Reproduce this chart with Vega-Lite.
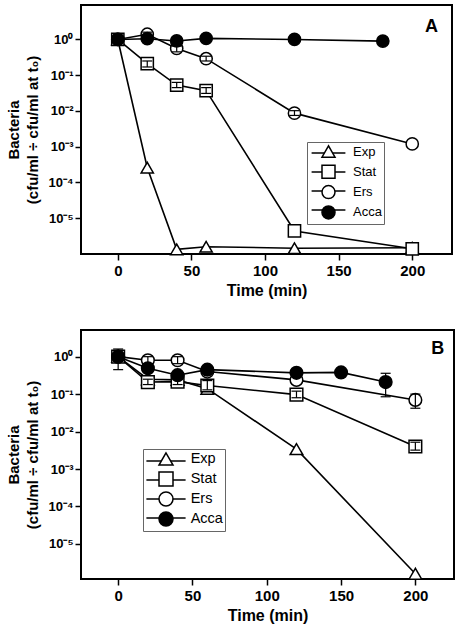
{
  "$schema": "https://vega.github.io/schema/vega-lite/v6.json",
  "padding": {"left": 4, "top": 4, "right": 0, "bottom": 0},
  "spacing": 30,
  "resolve": {"scale": {"color": "independent", "shape": "independent", "fill": "independent", "stroke": "independent"}, "legend": {"color": "independent", "shape": "independent", "fill": "independent", "stroke": "independent"}},
  "datasets": {
    "a": [
      {"t": 0, "v": 1, "s": "Exp"}, {"t": 20, "v": 0.00026, "s": "Exp"}, {"t": 40, "v": 0.00000135, "s": "Exp"}, {"t": 60, "v": 0.0000016, "s": "Exp"}, {"t": 120, "v": 0.00000145, "s": "Exp"}, {"t": 200, "v": 0.0000015, "s": "Exp"},
      {"t": 0, "v": 1, "s": "Stat"}, {"t": 20, "v": 0.21, "s": "Stat"}, {"t": 40, "v": 0.053, "s": "Stat"}, {"t": 60, "v": 0.037, "s": "Stat"}, {"t": 120, "v": 0.0000044, "s": "Stat"}, {"t": 200, "v": 0.0000014, "s": "Stat"},
      {"t": 0, "v": 1, "s": "Ers"}, {"t": 20, "v": 1.4, "s": "Ers"}, {"t": 40, "v": 0.56, "s": "Ers"}, {"t": 60, "v": 0.29, "s": "Ers"}, {"t": 120, "v": 0.0087, "s": "Ers"}, {"t": 200, "v": 0.0012, "s": "Ers"},
      {"t": 0, "v": 1, "s": "Acca"}, {"t": 20, "v": 1.05, "s": "Acca"}, {"t": 40, "v": 0.91, "s": "Acca"}, {"t": 60, "v": 1.07, "s": "Acca"}, {"t": 120, "v": 1.0, "s": "Acca"}, {"t": 180, "v": 0.9, "s": "Acca"}
    ],
    "b": [
      {"t": 0, "v": 1, "s": "Exp"}, {"t": 20, "v": 0.25, "s": "Exp"}, {"t": 40, "v": 0.24, "s": "Exp"}, {"t": 60, "v": 0.14, "s": "Exp"}, {"t": 120, "v": 0.0034, "s": "Exp"}, {"t": 200, "v": 0.0000016, "s": "Exp"},
      {"t": 0, "v": 1, "s": "Stat"}, {"t": 20, "v": 0.21, "s": "Stat"}, {"t": 40, "v": 0.215, "s": "Stat"}, {"t": 60, "v": 0.17, "s": "Stat"}, {"t": 120, "v": 0.097, "s": "Stat"}, {"t": 200, "v": 0.004, "s": "Stat"},
      {"t": 0, "v": 1, "s": "Ers"}, {"t": 20, "v": 0.8, "s": "Ers"}, {"t": 40, "v": 0.8, "s": "Ers"}, {"t": 60, "v": 0.4, "s": "Ers"}, {"t": 120, "v": 0.24, "s": "Ers"}, {"t": 200, "v": 0.07, "s": "Ers"},
      {"t": 0, "v": 1, "s": "Acca"}, {"t": 20, "v": 0.49, "s": "Acca"}, {"t": 40, "v": 0.32, "s": "Acca"}, {"t": 60, "v": 0.45, "s": "Acca"}, {"t": 120, "v": 0.37, "s": "Acca"}, {"t": 150, "v": 0.38, "s": "Acca"}, {"t": 180, "v": 0.21, "s": "Acca"}
    ],
    "ea": [
      {"t": 20, "lo": 0.17, "hi": 0.25}, {"t": 40, "lo": 0.045, "hi": 0.063}, {"t": 60, "lo": 0.031, "hi": 0.045},
      {"t": 20, "lo": 1.15, "hi": 1.6}, {"t": 40, "lo": 0.45, "hi": 0.65}, {"t": 60, "lo": 0.25, "hi": 0.34}, {"t": 120, "lo": 0.0075, "hi": 0.0102}
    ],
    "eb": [
      {"t": 0, "lo": 0.45, "hi": 1.6}, {"t": 20, "lo": 0.65, "hi": 1.0}, {"t": 40, "lo": 0.65, "hi": 1.0},
      {"t": 20, "lo": 0.18, "hi": 0.25}, {"t": 40, "lo": 0.18, "hi": 0.25}, {"t": 60, "lo": 0.13, "hi": 0.23}, {"t": 120, "lo": 0.08, "hi": 0.12}, {"t": 200, "lo": 0.0032, "hi": 0.0052},
      {"t": 180, "lo": 0.085, "hi": 0.36}, {"t": 200, "lo": 0.042, "hi": 0.1}
    ]
  },
  "vconcat": [
    {
      "width": 371,
      "height": 249,
      "layer": [
        {
          "data": {"name": "a"},
          "mark": {"type": "line", "strokeWidth": 1.6},
          "encoding": {
            "x": {"field": "t", "type": "quantitative", "scale": {"domain": [-25, 227], "nice": false, "zero": false},
              "axis": {"title": "Time (min)", "values": [0, 50, 100, 150, 200], "labelFontSize": 15, "titleFontSize": 16, "labelPadding": 3, "titlePadding": 4}},
            "y": {"field": "v", "type": "quantitative", "scale": {"type": "log", "domain": [0.000001, 9.2], "nice": false},
              "axis": {"title": ["Bacteria", "(cfu/ml ÷ cfu/ml at t₀)"], "values": [0.00001, 0.0001, 0.001, 0.01, 0.1, 1], "labelExpr": "'10' + replace(replace(replace(replace(replace(replace(replace('' + round(log(datum.value)/LN10), '-', '⁻'), '0', '⁰'), '1', '¹'), '2', '²'), '3', '³'), '4', '⁴'), '5', '⁵')", "labelFontSize": 13, "labelPadding": 2, "titleFontSize": 15, "titleLineHeight": 19, "titleX": -60}},
            "color": {"field": "s", "type": "nominal", "sort": ["Exp", "Stat", "Ers", "Acca"], "scale": {"range": ["black", "black", "black", "black"]},
              "legend": {"orient": "none", "legendX": 226, "legendY": 138.4, "title": null, "padding": 2, "symbolType": "M-2.6,0H2.6", "symbolSize": 169, "symbolStrokeWidth": 1.5, "symbolOffset": 12, "labelOffset": 17, "labelExpr": "''", "labelFont": "Liberation Sans", "labelFontSize": 13, "labelColor": "transparent", "rowPadding": 4}}
          }
        },
        {
          "data": {"name": "a"},
          "mark": {"type": "point", "filled": true, "strokeWidth": 1.5, "size": 150, "opacity": 1},
          "encoding": {
            "x": {"field": "t", "type": "quantitative"},
            "y": {"field": "v", "type": "quantitative"},
            "fill": {"field": "s", "type": "nominal", "scale": {"domain": ["Exp", "Stat", "Ers", "Acca"], "range": ["white", "white", "white", "black"]},
              "legend": {"orient": "none", "legendX": 226, "legendY": 137, "title": null, "padding": 2, "strokeColor": "#666", "symbolSize": 169, "symbolStrokeWidth": 1.5, "symbolOffset": 12, "labelOffset": 17, "labelFont": "Liberation Sans", "labelFontSize": 13, "labelColor": "black", "rowPadding": 1.3}},
            "stroke": {"field": "s", "type": "nominal", "scale": {"domain": ["Exp", "Stat", "Ers", "Acca"], "range": ["black", "black", "black", "black"]},
              "legend": {"orient": "none", "legendX": 226, "legendY": 137, "title": null, "padding": 2, "strokeColor": "#666", "symbolSize": 169, "symbolStrokeWidth": 1.5, "symbolOffset": 12, "labelOffset": 17, "labelFont": "Liberation Sans", "labelFontSize": 13, "labelColor": "black", "rowPadding": 1.3}},
            "shape": {"field": "s", "type": "nominal", "scale": {"domain": ["Exp", "Stat", "Ers", "Acca"], "range": ["triangle-up", "square", "circle", "circle"]},
              "legend": {"orient": "none", "legendX": 226, "legendY": 137, "title": null, "padding": 2, "strokeColor": "#666", "symbolSize": 169, "symbolStrokeWidth": 1.5, "symbolOffset": 12, "labelOffset": 17, "labelFont": "Liberation Sans", "labelFontSize": 13, "labelColor": "black", "rowPadding": 1.3}}
          }
        },
        {
          "data": {"name": "ea"},
          "mark": {"type": "rule", "color": "black", "strokeWidth": 1.2},
          "encoding": {"x": {"field": "t", "type": "quantitative"}, "y": {"field": "lo", "type": "quantitative"}, "y2": {"field": "hi"}}
        },
        {
          "data": {"name": "ea"},
          "mark": {"type": "point", "shape": "stroke", "size": 100, "stroke": "black", "strokeWidth": 1.2, "opacity": 1},
          "encoding": {"x": {"field": "t", "type": "quantitative"}, "y": {"field": "lo", "type": "quantitative"}}
        },
        {
          "data": {"name": "ea"},
          "mark": {"type": "point", "shape": "stroke", "size": 100, "stroke": "black", "strokeWidth": 1.2, "opacity": 1},
          "encoding": {"x": {"field": "t", "type": "quantitative"}, "y": {"field": "hi", "type": "quantitative"}}
        },
        {
          "data": {"values": [{"t": 213, "v": 2.3, "label": "A"}]},
          "mark": {"type": "text", "fontSize": 18, "fontWeight": "bold", "font": "Liberation Sans", "align": "center", "baseline": "middle", "color": "black"},
          "encoding": {"x": {"field": "t", "type": "quantitative"}, "y": {"field": "v", "type": "quantitative"}, "text": {"field": "label"}}
        }
      ]
    },
    {
      "width": 373,
      "height": 249,
      "layer": [
        {
          "data": {"name": "b"},
          "mark": {"type": "line", "strokeWidth": 1.6},
          "encoding": {
            "x": {"field": "t", "type": "quantitative", "scale": {"domain": [-25, 226], "nice": false, "zero": false},
              "axis": {"title": "Time (min)", "values": [0, 50, 100, 150, 200], "labelFontSize": 15, "titleFontSize": 16, "labelPadding": 3, "titlePadding": 4}},
            "y": {"field": "v", "type": "quantitative", "scale": {"type": "log", "domain": [0.00000116, 5.15], "nice": false},
              "axis": {"title": ["Bacteria", "(cfu/ml ÷ cfu/ml at t₀)"], "values": [0.00001, 0.0001, 0.001, 0.01, 0.1, 1], "labelExpr": "'10' + replace(replace(replace(replace(replace(replace(replace('' + round(log(datum.value)/LN10), '-', '⁻'), '0', '⁰'), '1', '¹'), '2', '²'), '3', '³'), '4', '⁴'), '5', '⁵')", "labelFontSize": 13, "labelPadding": 2, "titleFontSize": 15, "titleLineHeight": 19, "titleX": -60}},
            "color": {"field": "s", "type": "nominal", "sort": ["Exp", "Stat", "Ers", "Acca"], "scale": {"range": ["black", "black", "black", "black"]},
              "legend": {"orient": "none", "legendX": 62, "legendY": 121, "title": null, "padding": 2, "symbolType": "M-2.8,0H2.8", "symbolSize": 196, "symbolStrokeWidth": 1.5, "symbolOffset": 13, "labelOffset": 16.7, "labelExpr": "''", "labelFont": "Liberation Sans", "labelFontSize": 14.5, "labelColor": "transparent", "rowPadding": 4}}
          }
        },
        {
          "data": {"name": "b"},
          "mark": {"type": "point", "filled": true, "strokeWidth": 1.5, "size": 160, "opacity": 1},
          "encoding": {
            "x": {"field": "t", "type": "quantitative"},
            "y": {"field": "v", "type": "quantitative"},
            "fill": {"field": "s", "type": "nominal", "scale": {"domain": ["Exp", "Stat", "Ers", "Acca"], "range": ["white", "white", "white", "black"]},
              "legend": {"orient": "none", "legendX": 62, "legendY": 119, "title": null, "padding": 2, "strokeColor": "#666", "symbolSize": 196, "symbolStrokeWidth": 1.5, "symbolOffset": 13, "labelOffset": 16.7, "labelFont": "Liberation Sans", "labelFontSize": 14.5, "labelColor": "black", "rowPadding": 0}},
            "stroke": {"field": "s", "type": "nominal", "scale": {"domain": ["Exp", "Stat", "Ers", "Acca"], "range": ["black", "black", "black", "black"]},
              "legend": {"orient": "none", "legendX": 62, "legendY": 119, "title": null, "padding": 2, "strokeColor": "#666", "symbolSize": 196, "symbolStrokeWidth": 1.5, "symbolOffset": 13, "labelOffset": 16.7, "labelFont": "Liberation Sans", "labelFontSize": 14.5, "labelColor": "black", "rowPadding": 0}},
            "shape": {"field": "s", "type": "nominal", "scale": {"domain": ["Exp", "Stat", "Ers", "Acca"], "range": ["triangle-up", "square", "circle", "circle"]},
              "legend": {"orient": "none", "legendX": 62, "legendY": 119, "title": null, "padding": 2, "strokeColor": "#666", "symbolSize": 196, "symbolStrokeWidth": 1.5, "symbolOffset": 13, "labelOffset": 16.7, "labelFont": "Liberation Sans", "labelFontSize": 14.5, "labelColor": "black", "rowPadding": 0}}
          }
        },
        {
          "data": {"name": "eb"},
          "mark": {"type": "rule", "color": "black", "strokeWidth": 1.2},
          "encoding": {"x": {"field": "t", "type": "quantitative"}, "y": {"field": "lo", "type": "quantitative"}, "y2": {"field": "hi"}}
        },
        {
          "data": {"name": "eb"},
          "mark": {"type": "point", "shape": "stroke", "size": 100, "stroke": "black", "strokeWidth": 1.2, "opacity": 1},
          "encoding": {"x": {"field": "t", "type": "quantitative"}, "y": {"field": "lo", "type": "quantitative"}}
        },
        {
          "data": {"name": "eb"},
          "mark": {"type": "point", "shape": "stroke", "size": 100, "stroke": "black", "strokeWidth": 1.2, "opacity": 1},
          "encoding": {"x": {"field": "t", "type": "quantitative"}, "y": {"field": "hi", "type": "quantitative"}}
        },
        {
          "data": {"values": [{"t": 215, "v": 1.6, "label": "B"}]},
          "mark": {"type": "text", "fontSize": 18, "fontWeight": "bold", "font": "Liberation Sans", "align": "center", "baseline": "middle", "color": "black"},
          "encoding": {"x": {"field": "t", "type": "quantitative"}, "y": {"field": "v", "type": "quantitative"}, "text": {"field": "label"}}
        }
      ]
    }
  ],
  "config": {
    "font": "Liberation Sans",
    "view": {"stroke": "black", "strokeWidth": 2},
    "axis": {"domain": false, "grid": false, "ticks": true, "tickColor": "black", "tickWidth": 1.5, "tickSize": 6, "labelColor": "black", "labelFont": "Liberation Sans", "labelFontWeight": "bold", "titleFont": "Liberation Sans", "titleFontWeight": "bold", "titleColor": "black"}
  }
}
